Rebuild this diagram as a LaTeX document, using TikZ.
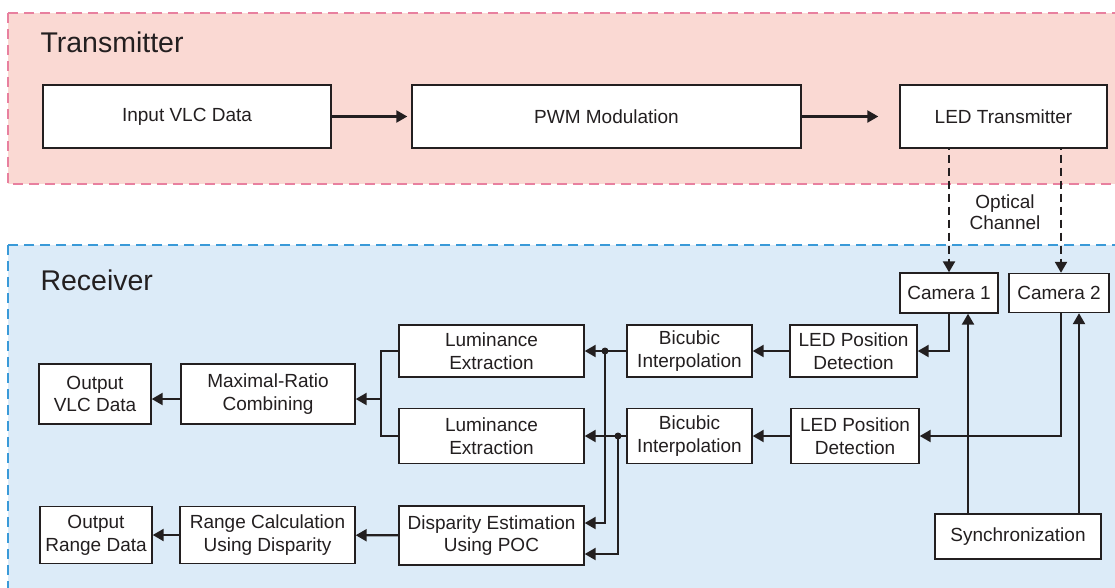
\documentclass[tikz,border=0pt]{standalone}
\usepackage{fontspec}
\setmainfont{Liberation Sans}
\usetikzlibrary{arrows.meta}
\definecolor{ink}{HTML}{231F20}
\definecolor{txfill}{HTML}{FAD9D3}
\definecolor{txedge}{HTML}{E8809F}
\definecolor{rxfill}{HTML}{DCEBF8}
\definecolor{rxedge}{HTML}{3A9AD8}
\begin{document}
\begin{tikzpicture}[x=1pt,y=-1pt,
  blk/.style={draw=ink, fill=white, line width=1.4pt, align=center, inner sep=0pt,
    font=\fontsize{19}{22.7}\selectfont, text=ink},
  arr/.style={draw=ink, line width=2.3pt, -{Triangle[length=11pt,width=12pt]}},
  wire/.style={draw=ink, line width=2.2pt},
  optic/.style={draw=ink, line width=2.3pt, dash pattern=on 8pt off 5pt, dash phase=-6pt,
    -{Triangle[length=11pt,width=12pt]}},
  zone/.style={line width=1.5pt, dash pattern=on 10pt off 6pt},
  title/.style={anchor=base west, text=ink, font=\fontsize{28.5}{30}\selectfont},
  jdot/.style={circle, fill=ink, inner sep=0pt, minimum size=7pt}
]
\useasboundingbox (0,0) rectangle (1115,587);
\clip (0,0) rectangle (1115,587);

% stage backgrounds
\draw[zone, draw=txedge, fill=txfill] (8,13) rectangle (1130,184);
\draw[zone, draw=rxedge, fill=rxfill] (8,245) rectangle (1130,600);
\node[title] (ttx) at (37,52) {Transmitter};
\node[title] (trx) at (37,290) {Receiver};

% transmitter chain
\node[blk, minimum width=288, minimum height=63] (in)  at (187,116.5)   {Input VLC Data};
\node[blk, minimum width=389, minimum height=63] (pwm) at (606.5,116.5) {PWM Modulation};
\node[blk, minimum width=207, minimum height=63] (led) at (1003.5,116.5) {LED Transmitter};
\draw[arr] (in) -- ([xshift=-4pt]pwm.west);
\draw[arr] (pwm) -- ([xshift=-21pt]led.west);

% cameras and optical channel
\node[blk, minimum width=98, minimum height=40] (cam1) at (949,293) {Camera 1};
\node[blk, minimum width=100, minimum height=39] (cam2) at (1059,293) {Camera 2};
\node[align=center, text=ink, font=\fontsize{19}{21}\selectfont] (och) at (1005,212) {Optical\\Channel};
\coordinate (c1x) at (949,0);
\coordinate (c2x) at (1061,0);
\draw[optic] (led.south -| c1x) -- (cam1.north -| c1x);
\draw[optic] (led.south -| c2x) -- (cam2.north -| c2x);

% receiver blocks
\node[blk, minimum width=127, minimum height=52] (pd1) at (853.5,351) {LED Position\\Detection};
\node[blk, minimum width=128, minimum height=55] (pd2) at (855,436)   {LED Position\\Detection};
\node[blk, minimum width=125, minimum height=52] (bi1) at (689.5,351) {Bicubic\\Interpolation};
\node[blk, minimum width=125, minimum height=55] (bi2) at (689.5,436) {Bicubic\\Interpolation};
\node[blk, minimum width=185, minimum height=52] (lu1) at (491.5,351) {Luminance\\Extraction};
\node[blk, minimum width=185, minimum height=55] (lu2) at (491.5,436) {Luminance\\Extraction};
\node[blk, minimum width=185, minimum height=59] (dis) at (491.5,535.5) {Disparity Estimation\\Using POC};
\node[blk, minimum width=175, minimum height=57] (rng) at (267.5,535)  {Range Calculation\\Using Disparity};
\node[blk, minimum width=112, minimum height=57] (outr) at (96,535)   {Output\\Range Data};
\node[blk, minimum width=174, minimum height=60] (mrc) at (268,394)   {Maximal-Ratio\\Combining};
\node[blk, minimum width=112, minimum height=60] (outv) at (95,394)   {Output\\VLC Data};
\node[blk, minimum width=166, minimum height=45] (sync) at (1018,536.5) {Synchronization};

% camera outputs
\draw[arr] (cam1.south -| c1x) |- (pd1.east);
\draw[arr] (cam2.south -| c2x) |- (pd2.east);

% synchronization lines
\coordinate (s1) at (968,0);
\coordinate (s2) at (1079,0);
\draw[arr] (sync.north -| s1) -- (cam1.south -| s1);
\draw[arr] (sync.north -| s2) -- (cam2.south -| s2);

% interpolation path
\draw[arr] (pd1) -- (bi1);
\draw[arr] (pd2) -- (bi2);
\coordinate (j1) at (605,351);
\coordinate (j2) at (618,436);
\coordinate (d1) at (0,523);
\coordinate (d2) at (0,554);
\draw[arr] (j1) |- (dis.east |- d1);
\draw[arr] (j2) |- (dis.east |- d2);
\draw[arr] (bi1) -- (lu1);
\draw[arr] (bi2) -- (lu2);
\node[jdot] (dot1) at (j1) {};
\node[jdot] (dot2) at (j2) {};

% combining bracket
\coordinate (bk) at (381,399);
\draw[wire, line width=2pt] (lu1.west) -| (bk) |- (lu2.west);
\draw[arr] (bk) -- (bk -| mrc.east);
\draw[arr] (mrc.west |- bk) -- (outv.east |- bk);

% range path
\draw[arr] (dis) -- (rng);
\draw[arr] (rng) -- (outr);
\end{tikzpicture}
\end{document}
